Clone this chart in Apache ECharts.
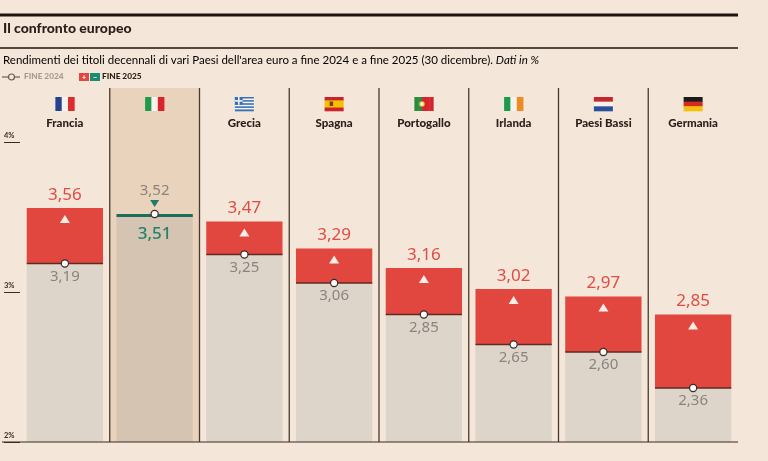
<!DOCTYPE html>
<html>
<head>
<meta charset="utf-8">
<script src="https://cdn.jsdelivr.net/npm/echarts@6/dist/echarts.min.js"></script>
<style>
html,body{margin:0;padding:0;background:#f4e6d8;}
#chart{width:768px;height:461px;}
</style>
</head>
<body>
<div id="chart"></div>
<script>
// ---- data ----
const countries = ['Francia', 'ITALIA', 'Grecia', 'Spagna', 'Portogallo', 'Irlanda', 'Paesi Bassi', 'Germania'];
const fine2024 = [3.19, 3.52, 3.25, 3.06, 2.85, 2.65, 2.60, 2.36];
const fine2025 = [3.56, 3.51, 3.47, 3.29, 3.16, 3.02, 2.97, 2.85];
const highlight = [false, true, false, false, false, false, false, false];
const yTicks = [2, 3, 4];

// ---- styles ----
const BG = '#f4e6d8';
const WHITE = '#f7f1ec';
const FLAGS = {
  'Francia': { dir: 'v', colors: ['#24418f', WHITE, '#dd2a2f'] },
  'ITALIA': { dir: 'v', colors: ['#1f9a4c', WHITE, '#d9262e'] },
  'Grecia': { dir: 'h', colors: ['#3470b8', WHITE, '#3470b8', WHITE, '#3470b8', WHITE, '#3470b8', WHITE, '#3470b8'], canton: true },
  'Spagna': { dir: 'h', colors: ['#c9232b', '#f2c100', '#f2c100', '#c9232b'], emblem: '#8a3a1c' },
  'Portogallo': { dir: 'v', colors: ['#2a8a3e', '#2a8a3e', '#d5262d', '#d5262d', '#d5262d'], emblem: '#e8c33a' },
  'Irlanda': { dir: 'v', colors: ['#1c9a4d', WHITE, '#f08a25'] },
  'Paesi Bassi': { dir: 'h', colors: ['#c8262e', WHITE, '#2b4f9c'] },
  'Germania': { dir: 'h', colors: ['#1b1b1b', '#d62a20', '#f4c20d'] }
};
const fmt = v => v.toFixed(2).replace('.', ',');
const NUMFONT = 'Noto Sans';

function flagShapes(name, cx, top) {
  const f = FLAGS[name];
  const w = 19, h = 14, x0 = cx - w / 2;
  const out = [];
  const n = f.colors.length;
  f.colors.forEach((c, k) => {
    if (f.dir === 'v') {
      out.push({ type: 'rect', shape: { x: x0 + k * w / n, y: top, width: w / n + 0.3, height: h }, style: { fill: c } });
    } else {
      out.push({ type: 'rect', shape: { x: x0, y: top + k * h / n, width: w, height: h / n + 0.3 }, style: { fill: c } });
    }
  });
  if (f.canton) {
    const cw = 7.8, ch = h * 5 / 9;
    out.push({ type: 'rect', shape: { x: x0, y: top, width: cw, height: ch }, style: { fill: '#3470b8' } });
    out.push({ type: 'rect', shape: { x: x0, y: top + ch / 2 - 0.8, width: cw, height: 1.6 }, style: { fill: WHITE } });
    out.push({ type: 'rect', shape: { x: x0 + cw / 2 - 0.8, y: top, width: 1.6, height: ch }, style: { fill: WHITE } });
  }
  if (f.emblem && name === 'Spagna') {
    out.push({ type: 'rect', shape: { x: x0 + 5, y: top + 4.5, width: 3.5, height: 4.5 }, style: { fill: f.emblem } });
  }
  if (f.emblem && name === 'Portogallo') {
    out.push({ type: 'circle', shape: { cx: x0 + w * 0.4, cy: top + h / 2, r: 2.8 }, style: { fill: f.emblem } });
    out.push({ type: 'rect', shape: { x: x0 + w * 0.4 - 1.4, y: top + h / 2 - 1.6, width: 2.8, height: 3.2 }, style: { fill: '#f4f0ea' } });
  }
  return out;
}

function renderItem(params, api) {
  const i = api.value(0), v24 = api.value(1), v25 = api.value(2);
  const cs = params.coordSys;
  const band = api.size([1, 0])[0];
  const cx = api.coord([i, v24])[0];
  const bw = band * 0.85;
  const x0 = cx - bw / 2;
  const yB = api.coord([i, 2])[1];
  const y24 = api.coord([i, v24])[1];
  const y25 = api.coord([i, v25])[1];
  const kids = [];
  if (highlight[i]) {
    kids.push({ type: 'rect', shape: { x: cx - band / 2, y: cs.y, width: band, height: yB - cs.y }, style: { fill: '#e9d3bd' } });
  }
  if (i > 0) {
    kids.push({ type: 'line', shape: { x1: cx - band / 2, y1: cs.y, x2: cx - band / 2, y2: yB }, style: { stroke: '#4a3a30', lineWidth: 1.3 } });
  }
  flagShapes(countries[i], cx, cs.y + 9).forEach(s => kids.push(s));
  if (v25 >= v24) {
    kids.push({ type: 'rect', shape: { x: x0, y: y24, width: bw, height: yB - y24 }, style: { fill: '#ddd5ca' } });
    kids.push({ type: 'rect', shape: { x: x0, y: y25, width: bw, height: y24 - y25 }, style: { fill: '#e2473f' } });
    kids.push({ type: 'line', shape: { x1: x0, y1: y24, x2: x0 + bw, y2: y24 }, style: { stroke: '#5e2a22', lineWidth: 1.5 } });
    kids.push({ type: 'polygon', shape: { points: [[cx - 5, y25 + 15], [cx + 5, y25 + 15], [cx, y25 + 7]] }, style: { fill: '#fbeee4' } });
    kids.push({ type: 'circle', shape: { cx: cx, cy: y24, r: 3.6 }, style: { fill: '#ffffff', stroke: '#3a2a24', lineWidth: 1.2 } });
    kids.push({ type: 'text', style: { text: fmt(v25), x: cx, y: y25 - 13, align: 'center', verticalAlign: 'middle', fill: '#e04c45', font: '17px "' + NUMFONT + '"' } });
    kids.push({ type: 'text', style: { text: fmt(v24), x: cx, y: y24 + 13, align: 'center', verticalAlign: 'middle', fill: '#8a847e', font: '15px "' + NUMFONT + '"' } });
  } else {
    kids.push({ type: 'rect', shape: { x: x0, y: y25, width: bw, height: yB - y25 }, style: { fill: '#d6c4b2' } });
    kids.push({ type: 'line', shape: { x1: x0, y1: y25, x2: x0 + bw, y2: y25 }, style: { stroke: '#1f6b5c', lineWidth: 3 } });
    kids.push({ type: 'polygon', shape: { points: [[cx - 4.5, y24 - 14], [cx + 4.5, y24 - 14], [cx, y24 - 7]] }, style: { fill: '#1f7a68' } });
    kids.push({ type: 'circle', shape: { cx: cx, cy: y24, r: 3.6 }, style: { fill: '#ffffff', stroke: '#3a2a24', lineWidth: 1.2 } });
    kids.push({ type: 'text', style: { text: fmt(v24), x: cx, y: y24 - 23, align: 'center', verticalAlign: 'middle', fill: '#8a847e', font: '15px "' + NUMFONT + '"' } });
    kids.push({ type: 'text', style: { text: fmt(v25), x: cx, y: y25 + 19, align: 'center', verticalAlign: 'middle', fill: '#22826e', font: '500 17px "' + NUMFONT + '"' } });
  }
  return { type: 'group', children: kids };
}

const chart = echarts.init(document.getElementById('chart'));
chart.setOption({
  backgroundColor: BG,
  animation: false,
  grid: { left: 20, right: 30, top: 88, bottom: 19 },
  xAxis: {
    type: 'category', data: countries, position: 'top',
    axisLine: { show: false }, axisTick: { show: false },
    axisLabel: { inside: true, margin: 35, verticalAlign: 'middle', fontFamily: 'Lato', fontWeight: 900, fontSize: 11.5, color: '#2b201a' }
  },
  yAxis: {
    type: 'value', min: 2, max: 4.36, interval: 1,
    splitLine: { show: false }, axisLine: { show: false },
    axisTick: { show: true, length: 16, customValues: yTicks, lineStyle: { color: '#3a2a22', width: 1 } },
    axisLabel: {
      customValues: yTicks, align: 'left', margin: 16, verticalAlign: 'bottom', padding: [0, 0, 2, 0],
      formatter: v => v + '%', fontSize: 7.5, fontWeight: 'bold', fontFamily: 'Lato', color: '#3a2d25'
    }
  },
  series: [{
    type: 'custom', clip: false,
    renderItem: renderItem,
    encode: { x: 0, y: [1, 2] },
    data: countries.map((c, i) => [i, fine2024[i], fine2025[i]]),
    z: 2
  }],
  graphic: [
    { type: 'line', shape: { x1: 0, y1: 15, x2: 738, y2: 15 }, style: { stroke: '#1e1510', lineWidth: 3 } },
    { type: 'text', left: 3, top: 21, style: { text: 'Il confronto europeo', font: '900 14px Lato', fill: '#2a1e18' } },
    { type: 'line', shape: { x1: 0, y1: 48, x2: 738, y2: 48 }, style: { stroke: '#1e1510', lineWidth: 1.6 } },
    { type: 'text', left: 3, top: 54, style: {
        text: "{n|Rendimenti dei titoli decennali di vari Paesi dell'area euro a fine 2024 e a fine 2025 (30 dicembre). }{i|Dati in %}",
        rich: {
          n: { fontFamily: 'Lato', fontSize: 11.5, color: '#3a2e28' },
          i: { fontFamily: 'Lato', fontSize: 11.5, fontStyle: 'italic', color: '#3a2e28' }
        }
      } },
    { type: 'line', shape: { x1: 2, y1: 77, x2: 20, y2: 77 }, style: { stroke: '#6a5e56', lineWidth: 1.2 } },
    { type: 'circle', shape: { cx: 11.5, cy: 77, r: 3 }, style: { fill: BG, stroke: '#6a5e56', lineWidth: 1.2 } },
    { type: 'text', left: 24, top: 72.5, style: { text: 'FINE 2024', font: '900 8.3px Lato', fill: '#a89c92' } },
    { type: 'rect', shape: { x: 79, y: 73, width: 10, height: 8 }, style: { fill: '#e2473f' } },
    { type: 'rect', shape: { x: 90, y: 73, width: 10, height: 8 }, style: { fill: '#1f8a74' } },
    { type: 'text', x: 84, y: 77, style: { text: '+', align: 'center', verticalAlign: 'middle', font: 'bold 8px Lato', fill: '#ffffff' } },
    { type: 'text', x: 95, y: 77, style: { text: '–', align: 'center', verticalAlign: 'middle', font: 'bold 8px Lato', fill: '#ffffff' } },
    { type: 'text', left: 102, top: 72.5, style: { text: 'FINE 2025', font: '900 8.3px Lato', fill: '#2a1e18' } },
    { type: 'line', shape: { x1: 2, y1: 442, x2: 738, y2: 442 }, style: { stroke: '#3a2a22', lineWidth: 1.2 }, z: 10 }
  ]
});
</script>
</body>
</html>
